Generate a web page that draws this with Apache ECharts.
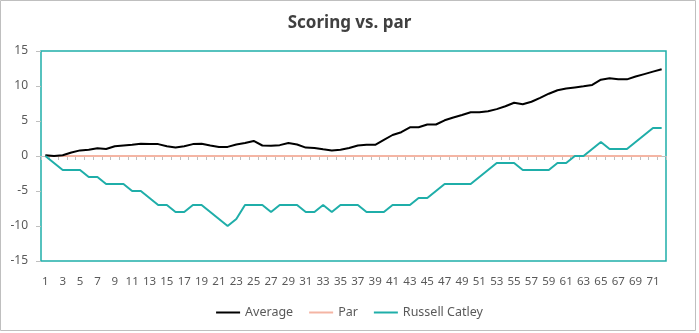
<!DOCTYPE html>
<html>
<head>
<meta charset="utf-8">
<script src="https://cdn.jsdelivr.net/npm/echarts@6/dist/echarts.min.js"></script>
<style>
html,body{margin:0;padding:0;background:#fff;}
#chart{width:699px;height:333px;}
</style>
</head>
<body>
<div id="chart"></div>
<script>
const categories = ['1','2','3','4','5','6','7','8','9','10','11','12','13','14','15','16','17','18','19','20','21','22','23','24','25','26','27','28','29','30','31','32','33','34','35','36','37','38','39','40','41','42','43','44','45','46','47','48','49','50','51','52','53','54','55','56','57','58','59','60','61','62','63','64','65','66','67','68','69','70','71','72'];
const average = [0.1,0,0.1,0.5,0.8,0.9,1.1,1.0,1.4,1.5,1.6,1.75,1.7,1.7,1.4,1.2,1.4,1.7,1.75,1.5,1.3,1.3,1.65,1.85,2.15,1.5,1.45,1.55,1.85,1.65,1.2,1.15,0.95,0.8,0.9,1.15,1.5,1.6,1.6,2.3,3.0,3.4,4.1,4.1,4.5,4.5,5.1,5.5,5.85,6.25,6.25,6.4,6.7,7.1,7.6,7.4,7.75,8.3,8.9,9.4,9.65,9.8,9.95,10.15,10.9,11.1,10.95,10.95,11.35,11.7,12.05,12.4];
const par = [0,0,0,0,0,0,0,0,0,0,0,0,0,0,0,0,0,0,0,0,0,0,0,0,0,0,0,0,0,0,0,0,0,0,0,0,0,0,0,0,0,0,0,0,0,0,0,0,0,0,0,0,0,0,0,0,0,0,0,0,0,0,0,0,0,0,0,0,0,0,0,0];
const russell = [0,-1,-2,-2,-2,-3,-3,-4,-4,-4,-5,-5,-6,-7,-7,-8,-8,-7,-7,-8,-9,-10,-9,-7,-7,-7,-8,-7,-7,-7,-8,-8,-7,-8,-7,-7,-7,-8,-8,-8,-7,-7,-7,-6,-6,-5,-4,-4,-4,-4,-3,-2,-1,-1,-1,-2,-2,-2,-2,-1,-1,0,0,1,2,1,1,1,2,3,4,4];
const seriesNames = ['Average','Par','Russell Catley'];
const yTicks = {min:-15, max:15, interval:5};

const teal = '#1FAEA9';
const font = "'Noto Sans', 'Open Sans', sans-serif";
const chart = echarts.init(document.getElementById('chart'), null, {renderer:'canvas'});
chart.setOption({
  animation:false,
  backgroundColor:'#ffffff',
  title:{
    text:'Scoring vs. par', left:'center', top:10,
    textStyle:{fontFamily:font, fontSize:17, fontWeight:'bold', color:'#404040'}
  },
  graphic:[{
    type:'rect', silent:true, z:-1,
    shape:{x:0.5, y:0.5, width:695, height:330},
    style:{fill:'none', stroke:'#BFBFBF', lineWidth:1}
  }],
  legend:{
    bottom:9, left:'center', icon:'rect', itemWidth:24, itemHeight:2, itemGap:16,
    textStyle:{fontFamily:font, fontSize:12.5, color:'#595959'},
    data:seriesNames
  },
  grid:{left:41, right:33, top:51, bottom:72, show:true, borderColor:teal, borderWidth:1.5, containLabel:false},
  xAxis:[{
    type:'category', data:categories, boundaryGap:true, position:'bottom',
    axisLine:{show:true, onZero:true, lineStyle:{color:'#BFBFBF', width:1}},
    axisTick:{show:true, interval:0, length:4, lineStyle:{color:'#BFBFBF'}},
    axisLabel:{show:false},
    splitLine:{show:false}
  },{
    type:'category', data:categories, boundaryGap:true, position:'bottom',
    axisLine:{show:false, onZero:false},
    axisTick:{show:false},
    axisLabel:{show:true, interval:1, margin:15, fontFamily:font, fontSize:11.5, color:'#595959'},
    splitLine:{show:false}
  }],
  yAxis:{
    type:'value', min:yTicks.min, max:yTicks.max, interval:yTicks.interval,
    axisLine:{show:false},
    axisTick:{show:true, length:5, lineStyle:{color:'#BFBFBF'}},
    axisLabel:{margin:13, fontFamily:font, fontSize:12, color:'#595959'},
    splitLine:{show:false}
  },
  series:[
    {name:seriesNames[0], type:'line', data:average, xAxisIndex:0, symbol:'none', lineStyle:{color:'#000000', width:2}, itemStyle:{color:'#000000'}, z:3},
    {name:seriesNames[1], type:'line', data:par, xAxisIndex:0, symbol:'none', lineStyle:{color:'#F4B5A4', width:2}, itemStyle:{color:'#F4B5A4'}, z:2},
    {name:seriesNames[2], type:'line', data:russell, xAxisIndex:0, symbol:'none', lineStyle:{color:teal, width:2}, itemStyle:{color:teal}, z:4}
  ]
});
</script>
</body>
</html>
